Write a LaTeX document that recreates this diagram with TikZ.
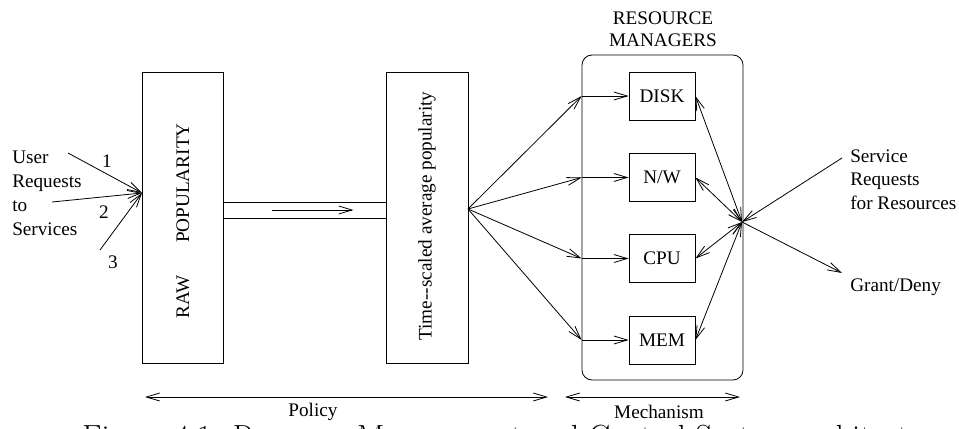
\documentclass[tikz,border=0pt]{standalone}
\usepackage{fontspec}
\usetikzlibrary{arrows.meta}
\newfontfamily\timesfont{Liberation Serif}

\begin{document}
\begin{tikzpicture}[x=0.75pt,y=-0.75pt,
  lbl/.style={font=\timesfont\fontsize{14.4}{17.5}\selectfont,inner sep=0pt},
  box/.style={draw,line width=0.6pt,inner sep=0pt},
  arr/.style={line width=0.6pt,-{Straight Barb[length=10pt,width=6pt]}},
  darr/.style={line width=0.6pt,{Straight Barb[length=10pt,width=6pt]}-{Straight Barb[length=10pt,width=6pt]}}]
\useasboundingbox (0,0) rectangle (959,428);

% user requests
\draw (12,193) node[lbl,anchor=west,align=left,font=\timesfont\fontsize{14.4}{18}\selectfont](user) {User\\Requests\\to\\Services};
\coordinate (u1) at (68,153);
\coordinate (u2) at (52,202);
\coordinate (u3) at (100,250);
\coordinate (in) at (142,193);
\draw[arr] (u1) -- (in);
\draw[arr] (u2) -- (in);
\draw[arr] (u3) -- (in);
\draw (107,161) node[lbl](one) {1};
\draw (104,212) node[lbl](two) {2};
\draw (113,262) node[lbl](three) {3};

% policy boxes
\draw (182.5,217.5) node[box,minimum width=60.75pt,minimum height=218.25pt](raw) {};
\draw (183,221) node[lbl,rotate=90](rawtxt) {RAW\hspace{1.7em}POPULARITY};
\draw (427,217.5) node[box,minimum width=61.5pt,minimum height=218.25pt](avg) {};
\draw (427,216) node[lbl,rotate=90](avgtxt) {Time--scaled average popularity};
\draw (304.5,210) node[box,minimum width=122.25pt,minimum height=12pt](pipe) {};
\draw[arr] ([xshift=36.75pt]pipe.west) -- ([xshift=-24.75pt]pipe.east);

% resource managers
\draw (663,29) node[lbl,align=center,font=\timesfont\fontsize{14.4}{16.5}\selectfont](title) {RESOURCE\\MANAGERS};
\draw (662.5,217.5) node[box,rounded corners=7.5pt,minimum width=120.75pt,minimum height=243.75pt](mgr) {};
\draw (662,96) node[lbl,box,minimum width=49.5pt,minimum height=36pt](disk) {DISK};
\draw (662,177.5) node[lbl,box,minimum width=49.5pt,minimum height=36pt](nw) {N/W};
\draw (662,258.5) node[lbl,box,minimum width=49.5pt,minimum height=36pt](cpu) {CPU};
\draw (662,340) node[lbl,box,minimum width=49.5pt,minimum height=36pt](mem) {MEM};

\coordinate (fan) at (468,209);
\draw[arr] (fan) -- (mgr.west |- disk);
\draw[arr] (fan) -- (mgr.west |- nw);
\draw[arr] (fan) -- (mgr.west |- cpu);
\draw[arr] (fan) -- (mgr.west |- mem);
\draw[arr] (mgr.west |- disk) -- (disk);
\draw[arr] (mgr.west |- nw) -- (nw);
\draw[arr] (mgr.west |- cpu) -- (cpu);
\draw[arr] (mgr.west |- mem) -- (mem);

\coordinate (hub) at (742,222);
\draw[darr] (hub) -- (disk.east);
\draw[darr] (hub) -- (nw.east);
\draw[darr] (hub) -- (cpu.east);
\draw[darr] (hub) -- (mem.east);

% service requests
\draw (850,179.5) node[lbl,anchor=west,align=left](svc) {Service\\Requests\\for Resources};
\draw (850,287) node[lbl,anchor=west](grant) {Grant/Deny};
\coordinate (req) at (842,158);
\coordinate (gnt) at (842,273);
\draw[arr] (req) -- (hub);
\draw[arr] (hub) -- (gnt);

% policy / mechanism
\coordinate (p1) at (145,397);
\coordinate (p2) at (548,397);
\coordinate (m1) at (565,397);
\coordinate (m2) at (740,397);
\draw[darr] (p1) -- (p2);
\draw[darr] (m1) -- (m2);
\draw (313,412) node[lbl](policy) {Policy};
\draw (659,412) node[lbl](mech) {Mechanism};

% caption, cut by the page edge
\begin{scope}
\clip (0,0) rectangle (959,428);
\draw (82,447) node[anchor=base west,inner sep=0pt,font=\fontsize{24}{28}\selectfont](cap) {Figure 4.1: Resource Management and Control System architecture};
\end{scope}
\end{tikzpicture}
\end{document}
